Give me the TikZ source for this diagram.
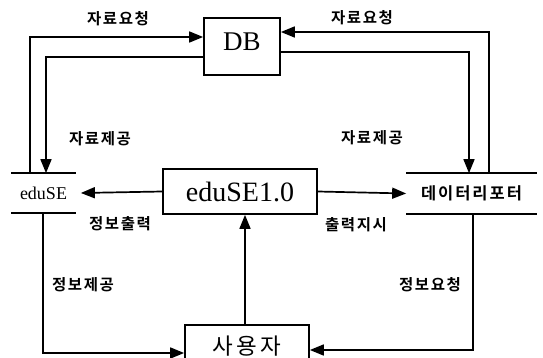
\documentclass[tikz,border=0pt]{standalone}
\usepackage{fontspec}
\setmainfont{Liberation Serif}
\newfontfamily\krlabel[LetterSpace=10]{Noto Sans CJK KR Bold}
\newfontfamily\krstore[LetterSpace=12]{Noto Sans CJK KR Bold}
\newfontfamily\krbig[LetterSpace=16]{Noto Sans CJK KR}
\usetikzlibrary{arrows.meta}
\begin{document}
\begin{tikzpicture}[x=1pt,y=-1pt,
  line width=1.7pt,
  procbox/.style={draw, inner sep=0pt, line width=1.7pt},
  storebox/.style={inner sep=0pt},
  arr/.style={-{Triangle[length=14pt,width=11pt]}},
  flowlabel/.style={font=\krlabel\fontsize{15.5}{16}\selectfont, inner sep=0pt}]
\useasboundingbox (0,0) rectangle (543,358);

% processes
\node[procbox, minimum width=76pt, minimum height=57pt, text depth=9pt,
      font=\fontsize{27}{29}\selectfont] (db) at (242,46.5) {DB};
\node[procbox, minimum width=154pt, minimum height=45pt,
      font=\fontsize{28}{30}\selectfont] (edu) at (240,191.5) {eduSE1.0};
\node[procbox, minimum width=124pt, minimum height=50pt, text depth=10pt,
      font=\krbig\fontsize{22.5}{24}\selectfont] (user) at (247,350) {사용자};

% data stores (open boxes: top and bottom lines only)
\node[storebox, minimum width=63pt, minimum height=38pt,
      font=\fontsize{18}{20}\selectfont] (s1) at (43.5,193) {eduSE\hspace{12pt}};
\draw (s1.north west) -- (s1.north east);
\draw (s1.south west) -- (s1.south east);
\node[storebox, minimum width=129pt, minimum height=39pt,
      font=\krstore\fontsize{16.5}{18}\selectfont] (s2) at (471.5,193.5) {데이터리포터};
\draw (s2.north west) -- (s2.north east);
\draw (s2.south west) -- (s2.south east);

% flows between eduSE and DB
\draw[arr] ([xshift=-13.5pt]s1.north) |- ([yshift=9.5pt]db.west);
\draw[arr] ([yshift=-10.5pt]db.west) -| ([xshift=2.5pt]s1.north);
% flows between data reporter and DB
\draw[arr] ([xshift=17.5pt]s2.north) |- ([yshift=14.5pt]db.east);
\draw[arr] ([yshift=-5.5pt]db.east) -| ([xshift=-2.5pt]s2.north);
% outputs of eduSE1.0
\draw[arr] (edu.west) -- ([xshift=5pt]s1.east);
\draw[arr] (edu.east) -- (s2.west);
% user interaction
\draw[arr] ([xshift=-2pt]user.north) -- ([xshift=-2pt]user.north |- edu.south);
\draw[arr] ([xshift=-0.5pt]s1.south) |- ([yshift=-3pt]user.west);
\draw[arr] ([xshift=1.5pt]s2.south) |- (user.east);

% flow labels
\node[flowlabel] (l1) at (118,19) {자료요청};
\node[flowlabel] (l2) at (362,18) {자료요청};
\node[flowlabel] (l3) at (100,139) {자료제공};
\node[flowlabel] (l4) at (372,138) {자료제공};
\node[flowlabel] (l5) at (120,224) {정보출력};
\node[flowlabel] (l6) at (356,225) {출력지시};
\node[flowlabel] (l7) at (83,285) {정보제공};
\node[flowlabel] (l8) at (430,285) {정보요청};
\end{tikzpicture}
\end{document}
